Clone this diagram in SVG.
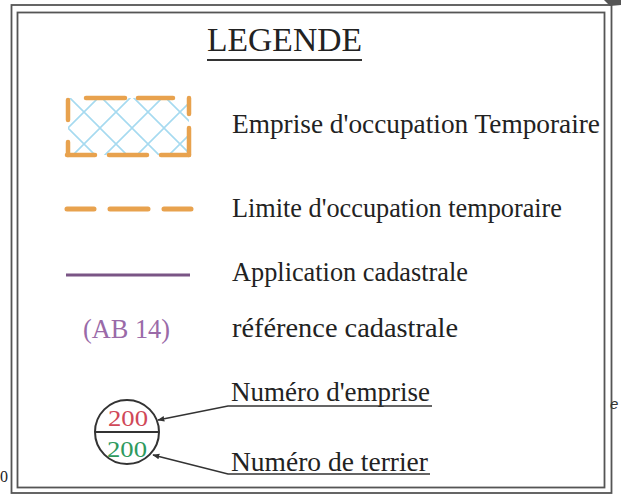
<svg xmlns="http://www.w3.org/2000/svg" width="621" height="495" viewBox="0 0 621 495">
<defs>
<style>
.t{font-family:"Liberation Serif","Times New Roman",serif;font-size:28px;fill:#222}
.frame{fill:none;stroke:#555;stroke-width:1.8}
.orange{stroke:#e8a24e;fill:none;stroke-linecap:round}
.lead{stroke:#333;stroke-width:1.6;fill:none}
</style>
<pattern id="hatch" patternUnits="userSpaceOnUse" width="32" height="32" x="68" y="96">
<path d="M0 0 L32 32 M32 0 L0 32 M-16 16 L0 32 M16 -16 L48 16" stroke="#a6daf0" stroke-width="1.6" fill="none"/>
</pattern>
<marker id="arr" viewBox="0 0 10 10" refX="9" refY="5" markerWidth="7" markerHeight="7" orient="auto" markerUnits="userSpaceOnUse">
<path d="M0 1 L10 5 L0 9 Z" fill="#333"/>
</marker>
</defs>
<rect width="621" height="495" fill="#fff"/>
<g id="frame">
<rect class="frame" x="11.5" y="5" width="600" height="488"/>
<rect class="frame" x="17.5" y="12.5" width="587" height="475"/>
</g>
<g id="title">
<text class="t" x="207" y="51" font-size="33" style="font-size:33px" textLength="155" lengthAdjust="spacingAndGlyphs">LEGENDE</text>
<line x1="207" y1="60" x2="362" y2="60" stroke="#333" stroke-width="2"/>
</g>
<g id="emprise-temp">
<rect x="68" y="98" width="121" height="57" fill="url(#hatch)"/>
<g class="orange" stroke-width="4.5">
<path d="M86 98 H125 M138 98 H173"/>
<path d="M189 98 V114 M189 128 V155"/>
<path d="M67 155 H95 M109 155 H147 M161 155 H189"/>
<path d="M68 100 V120 M68 142 V155"/>
</g>
<text class="t" x="232" y="133" textLength="368" lengthAdjust="spacingAndGlyphs">Emprise d'occupation Temporaire</text>
</g>
<g id="limite-temp">
<path class="orange" stroke-width="5" d="M67 209 H94 M110 209 H148 M164 209 H191"/>
<text class="t" x="232" y="217" textLength="330" lengthAdjust="spacingAndGlyphs">Limite d'occupation temporaire</text>
</g>
<g id="application">
<line x1="66" y1="275" x2="190" y2="275" stroke="#7a5585" stroke-width="3"/>
<text class="t" x="232" y="281" textLength="236" lengthAdjust="spacingAndGlyphs">Application cadastrale</text>
</g>
<g id="reference">
<text class="t" x="83" y="338" style="fill:#9a6aa8" textLength="87" lengthAdjust="spacingAndGlyphs">(AB 14)</text>
<text class="t" x="232" y="337" textLength="226" lengthAdjust="spacingAndGlyphs">référence cadastrale</text>
</g>
<g id="numero">
<circle cx="127" cy="432" r="32" fill="none" stroke="#333" stroke-width="2"/>
<line x1="95" y1="432" x2="159" y2="432" stroke="#333" stroke-width="2"/>
<text class="t" x="108" y="426" style="fill:#d04858;font-size:23px" textLength="40" lengthAdjust="spacingAndGlyphs">200</text>
<text class="t" x="107" y="457" style="fill:#2e9a5e;font-size:23px" textLength="40" lengthAdjust="spacingAndGlyphs">200</text>
</g>
<g id="label-emprise">
<text class="t" x="231" y="401" textLength="199" lengthAdjust="spacingAndGlyphs">Numéro d'emprise</text>
</g>
<g id="label-terrier">
<text class="t" x="231" y="471" textLength="197" lengthAdjust="spacingAndGlyphs">Numéro de terrier</text>
</g>
<g id="connectors">
<path class="lead" d="M432 406 H228 L158 420" marker-end="url(#arr)"/>
<path class="lead" d="M430 474 H228 L153 455" marker-end="url(#arr)"/>
</g>
<g id="fragments">
<text x="610" y="409" font-family="Liberation Sans, sans-serif" font-size="15" font-style="italic" fill="#333">e</text>
<text x="0" y="482" font-family="Liberation Serif, serif" font-size="16" fill="#222">0</text>
<path d="M604 0 L621 0 L621 5 L610 6 Z" fill="#555"/>
</g>
</svg>
